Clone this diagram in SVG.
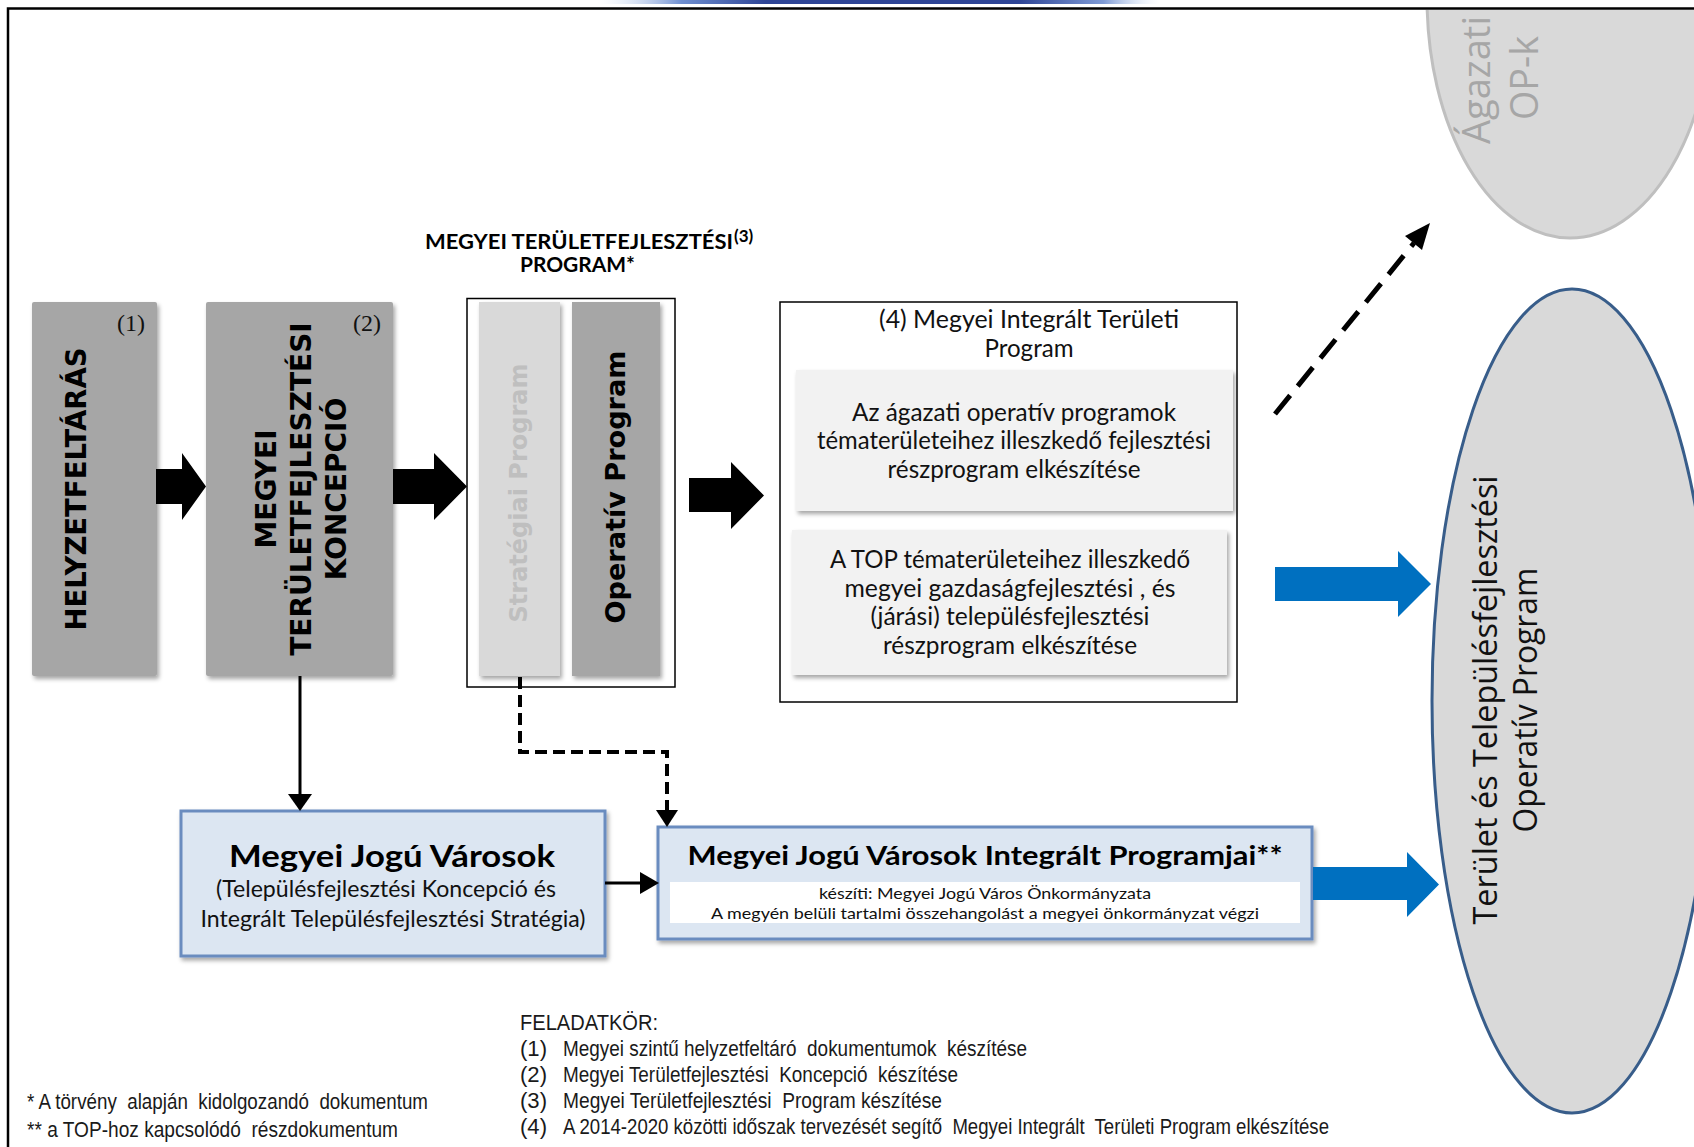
<svg xmlns="http://www.w3.org/2000/svg" width="1694" height="1147" viewBox="0 0 1694 1147">
<defs>
<style>
.gbox{fill:#a6a6a6;}
.rt{font-family:'DejaVu Sans',Verdana,sans-serif;font-weight:bold;text-anchor:middle;fill:#000;}
.num{font-family:'Liberation Serif','DejaVu Serif',serif;font-size:24px;text-anchor:middle;fill:#111;}
.cal{font-family:Lato,'Liberation Sans',sans-serif;text-anchor:middle;fill:#111;}
.calb{font-family:Lato,'Liberation Sans',sans-serif;font-weight:bold;fill:#000;}
.ar{font-family:'Liberation Sans',Arial,sans-serif;font-size:22px;fill:#1a1a1a;}
.os{font-family:'Open Sans','DejaVu Sans',sans-serif;text-anchor:middle;}
.blk{fill:#000;}
.blue{fill:#0070c0;}
.conn{stroke:#000;stroke-width:3;fill:none;}
.dash{stroke:#000;stroke-width:4;fill:none;stroke-dasharray:12 6;}
.jbox{fill:#dce6f2;stroke:#6a8cbf;stroke-width:3;}
.inner{fill:#f2f2f2;}
</style>
<filter id="sh" x="-10%" y="-10%" width="125%" height="125%">
<feDropShadow dx="2" dy="3" stdDeviation="2" flood-color="#000" flood-opacity="0.35"/>
</filter>
<linearGradient id="topg" x1="0" y1="0" x2="1" y2="0">
<stop offset="0" stop-color="#dbe8f7" stop-opacity="0"/>
<stop offset="0.15" stop-color="#6f8fd0"/>
<stop offset="0.3" stop-color="#2e4596"/>
<stop offset="0.75" stop-color="#2e4596"/>
<stop offset="0.9" stop-color="#7f9bd6"/>
<stop offset="1" stop-color="#dbe8f7" stop-opacity="0"/>
</linearGradient>
<clipPath id="inside"><rect x="9" y="10" width="1700" height="1200"/></clipPath>
</defs>
<rect x="0" y="0" width="1694" height="1147" fill="#fff"/>
<rect x="597" y="0" width="563" height="4" fill="url(#topg)"/>

<g id="agazati-op" clip-path="url(#inside)">
<ellipse cx="1570" cy="-2" rx="143" ry="240" fill="#d9d9d9" stroke="#bfbfbf" stroke-width="3"/>
<text class="os" font-size="38.5" fill="#a6a6a6" transform="translate(1490,80) rotate(-90)" textLength="128" lengthAdjust="spacingAndGlyphs">Ágazati</text>
<text class="os" font-size="38.5" fill="#a6a6a6" transform="translate(1538,78) rotate(-90)" textLength="84" lengthAdjust="spacingAndGlyphs">OP-k</text>
</g>

<g id="top-op">
<ellipse cx="1572" cy="701" rx="140" ry="412" fill="#d9d9d9" stroke="#385d8a" stroke-width="3"/>
<text class="os" font-size="32" fill="#111" transform="translate(1497,700) rotate(-90)" textLength="449" lengthAdjust="spacingAndGlyphs">Terület és Településfejlesztési</text>
<text class="os" font-size="32" fill="#111" transform="translate(1537,700) rotate(-90)" textLength="265" lengthAdjust="spacingAndGlyphs">Operatív Program</text>
</g>

<g id="helyzetfeltaras">
<rect class="gbox" x="32" y="302" width="125" height="374" rx="2" filter="url(#sh)"/>
<text class="num" x="131" y="331">(1)</text>
<text class="rt" font-size="27.5" transform="translate(86,489) rotate(-90)">HELYZETFELTÁRÁS</text>
</g>

<g id="koncepcio">
<rect class="gbox" x="206" y="302" width="187" height="374" rx="2" filter="url(#sh)"/>
<text class="num" x="367" y="331">(2)</text>
<text class="rt" font-size="28" transform="translate(276,489) rotate(-90)">MEGYEI</text>
<text class="rt" font-size="28" transform="translate(311,489) rotate(-90)">TERÜLETFEJLESZTÉSI</text>
<text class="rt" font-size="28" transform="translate(346,489) rotate(-90)">KONCEPCIÓ</text>
</g>

<g id="program">
<text class="calb" font-size="20" x="425" y="249" textLength="308" lengthAdjust="spacingAndGlyphs">MEGYEI TERÜLETFEJLESZTÉSI</text>
<text class="calb" font-size="17" x="734" y="242">(3)</text>
<text class="calb" font-size="20" x="520" y="272" textLength="115" lengthAdjust="spacingAndGlyphs">PROGRAM*</text>
<rect x="467" y="298.5" width="208" height="388.5" fill="#fff" stroke="#000" stroke-width="1.5"/>
<rect x="479" y="302" width="81" height="374" fill="#d9d9d9" filter="url(#sh)"/>
<text class="rt" font-size="24" style="fill:#bfbfbf" transform="translate(527,493) rotate(-90)">Stratégiai Program</text>
<rect x="572" y="302" width="88" height="374" fill="#a6a6a6" filter="url(#sh)"/>
<text class="rt" font-size="26" transform="translate(625,487) rotate(-90)" textLength="273" lengthAdjust="spacingAndGlyphs">Operatív Program</text>
</g>

<g id="mitp">
<rect x="780" y="302" width="457" height="400" fill="#fff" stroke="#000" stroke-width="1.5"/>
<text class="cal" font-size="25" x="1029" y="328" textLength="300" lengthAdjust="spacingAndGlyphs">(4) Megyei Integrált Területi</text>
<text class="cal" font-size="25" x="1029" y="357" textLength="89" lengthAdjust="spacingAndGlyphs">Program</text>
<rect class="inner" x="796" y="370" width="437" height="141" filter="url(#sh)"/>
<text class="cal" font-size="25" x="1014" y="421" textLength="324" lengthAdjust="spacingAndGlyphs">Az ágazati operatív programok</text>
<text class="cal" font-size="25" x="1014" y="449" textLength="394" lengthAdjust="spacingAndGlyphs">tématerületeihez illeszkedő fejlesztési</text>
<text class="cal" font-size="25" x="1014" y="478" textLength="253" lengthAdjust="spacingAndGlyphs">részprogram elkészítése</text>
<rect class="inner" x="792" y="530" width="435" height="145" filter="url(#sh)"/>
<text class="cal" font-size="25" x="1010" y="568" textLength="360" lengthAdjust="spacingAndGlyphs">A TOP tématerületeihez illeszkedő</text>
<text class="cal" font-size="25" x="1010" y="597" textLength="331" lengthAdjust="spacingAndGlyphs">megyei gazdaságfejlesztési , és</text>
<text class="cal" font-size="25" x="1010" y="625" textLength="279" lengthAdjust="spacingAndGlyphs">(járási) településfejlesztési</text>
<text class="cal" font-size="25" x="1010" y="654" textLength="254" lengthAdjust="spacingAndGlyphs">részprogram elkészítése</text>
</g>

<g id="mjv">
<rect class="jbox" x="181" y="811" width="424" height="145" filter="url(#sh)"/>
<text class="calb" font-size="31" x="392" y="867" text-anchor="middle" textLength="326" lengthAdjust="spacingAndGlyphs">Megyei Jogú Városok</text>
<text class="cal" font-size="24" x="386" y="897" textLength="340" lengthAdjust="spacingAndGlyphs">(Településfejlesztési Koncepció és</text>
<text class="cal" font-size="24" x="393" y="927" textLength="385" lengthAdjust="spacingAndGlyphs">Integrált Településfejlesztési  Stratégia)</text>
</g>

<g id="mjvip">
<rect class="jbox" x="658" y="827" width="654" height="112" filter="url(#sh)"/>
<text class="calb" font-size="26" x="985" y="865" text-anchor="middle" textLength="595" lengthAdjust="spacingAndGlyphs">Megyei Jogú Városok Integrált Programjai**</text>
<rect x="670" y="882" width="630" height="41" fill="#fff"/>
<text class="cal" font-size="16" x="985" y="899" textLength="332" lengthAdjust="spacingAndGlyphs">készíti: Megyei Jogú Város Önkormányzata</text>
<text class="cal" font-size="16" x="985" y="919" textLength="548" lengthAdjust="spacingAndGlyphs">A megyén belüli tartalmi összehangolást a megyei önkormányzat végzi</text>
</g>

<g id="connectors">
<path class="blk" d="M156,469 H182 V453 L206,486.5 L182,520 V504 H156 Z"/>
<path class="blk" d="M393,469 H434 V453 L467,486.5 L434,520 V504 H393 Z"/>
<path class="blk" d="M689,478 H731 V462 L764,495.5 L731,529 V512 H689 Z"/>
<path class="blue" d="M1275,567 H1398 V551 L1431,584 L1398,617 V601 H1275 Z"/>
<path class="blue" d="M1313,867 H1407 V852 L1439,884.5 L1407,917 V900 H1313 Z"/>
<line class="conn" x1="300" y1="676" x2="300" y2="795"/>
<polygon class="blk" points="288,794 312,794 300,811"/>
<line class="conn" x1="605" y1="883" x2="642" y2="883"/>
<polygon class="blk" points="640,872 640,894 659,883"/>
<path class="dash" d="M520,677 V752 H667 V812"/>
<polygon class="blk" points="656,810 678,810 667,827"/>
<line x1="1275" y1="414" x2="1414" y2="243" stroke="#000" stroke-width="5" stroke-dasharray="24 12"/>
<polygon class="blk" points="1430,223 1422,250 1405,236"/>
</g>

<g id="footnotes">
<text class="ar" x="27" y="1109" textLength="401" lengthAdjust="spacingAndGlyphs" xml:space="preserve">* A törvény  alapján  kidolgozandó  dokumentum</text>
<text class="ar" x="27" y="1137" textLength="371" lengthAdjust="spacingAndGlyphs" xml:space="preserve">** a TOP-hoz kapcsolódó  részdokumentum</text>
</g>

<g id="feladatkor">
<text class="ar" x="520" y="1030" textLength="138" lengthAdjust="spacingAndGlyphs">FELADATKÖR:</text>
<text class="ar" x="520" y="1056" textLength="27" lengthAdjust="spacingAndGlyphs">(1)</text>
<text class="ar" x="563" y="1056" textLength="464" lengthAdjust="spacingAndGlyphs" xml:space="preserve">Megyei szintű helyzetfeltáró  dokumentumok  készítése</text>
<text class="ar" x="520" y="1082" textLength="27" lengthAdjust="spacingAndGlyphs">(2)</text>
<text class="ar" x="563" y="1082" textLength="395" lengthAdjust="spacingAndGlyphs" xml:space="preserve">Megyei Területfejlesztési  Koncepció  készítése</text>
<text class="ar" x="520" y="1108" textLength="27" lengthAdjust="spacingAndGlyphs">(3)</text>
<text class="ar" x="563" y="1108" textLength="379" lengthAdjust="spacingAndGlyphs" xml:space="preserve">Megyei Területfejlesztési  Program készítése</text>
<text class="ar" x="520" y="1134" textLength="27" lengthAdjust="spacingAndGlyphs">(4)</text>
<text class="ar" x="563" y="1134" textLength="766" lengthAdjust="spacingAndGlyphs" xml:space="preserve">A 2014-2020 közötti időszak tervezését segítő  Megyei Integrált  Területi Program elkészítése</text>
</g>

<rect x="8" y="8.5" width="1720" height="1200" fill="none" stroke="#000" stroke-width="2.5"/>
</svg>
